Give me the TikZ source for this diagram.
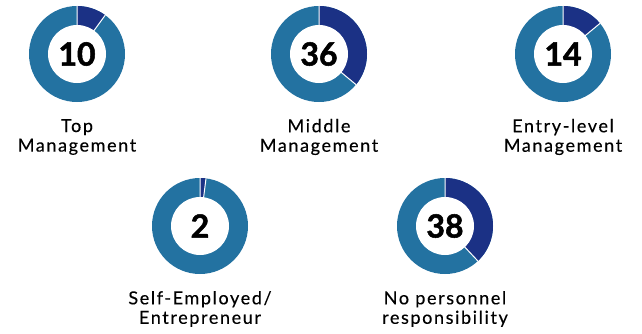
\documentclass[tikz,border=0pt]{standalone}
\usepackage{fontspec}
\setmainfont{Lato}
\newfontfamily\labelfont{Lato}[LetterSpace=9, FakeBold=0.3]
\newfontfamily\numfont{Lato}[BoldFeatures={FakeBold=1.6}]
\usepackage{xcolor}
\usepackage{tikz}

\definecolor{ringblue}{RGB}{35,114,161}
\definecolor{ringnavy}{RGB}{27,49,133}

\tikzset{
  numtext/.style={font=\numfont\fontsize{32}{32}\selectfont\bfseries, text=black},
  labeltext/.style={font=\labelfont\fontsize{18}{19.5}\selectfont, align=center, text=black},
  gap/.style={white, line width=1pt}
}

\begin{document}
\begin{tikzpicture}[x=1pt,y=1pt]
  	\useasboundingbox (0,0) rectangle (642,333);
  	% Top Management
  	\fill[ringblue] (77,279) circle (48pt);
  	\fill[ringnavy] (77,279) -- ++(90:48pt) arc[start angle=90, end angle=54, radius=48pt] -- cycle;
  	\draw[gap] (77,279) -- ++(90:48pt) (77,279) -- ++(54:48pt);
  	\fill[white] (77,279) circle (29pt);
  	\node[numtext] (topnum) at (77,279) {10};
  	\node[labeltext] (toplabel) at (77,196) {Top\\Management};
  	% Middle Management
  	\fill[ringblue] (319,279) circle (48pt);
  	\fill[ringnavy] (319,279) -- ++(90:48pt) arc[start angle=90, end angle=-39.6, radius=48pt] -- cycle;
  	\draw[gap] (319,279) -- ++(90:48pt) (319,279) -- ++(-39.6:48pt);
  	\fill[white] (319,279) circle (29pt);
  	\node[numtext] (midnum) at (319,279) {36};
  	\node[labeltext] (midlabel) at (319,196) {Middle\\Management};
  	% Entry-level Management
  	\fill[ringblue] (563,279) circle (48pt);
  	\fill[ringnavy] (563,279) -- ++(90:48pt) arc[start angle=90, end angle=39.6, radius=48pt] -- cycle;
  	\draw[gap] (563,279) -- ++(90:48pt) (563,279) -- ++(39.6:48pt);
  	\fill[white] (563,279) circle (29pt);
  	\node[numtext] (entrynum) at (563,279) {14};
  	\node[labeltext] (entrylabel) at (563,196) {Entry-level\\Management};
  	% Self-Employed
  	\fill[ringblue] (200,107) circle (48pt);
  	\fill[ringnavy] (200,107) -- ++(90:48pt) arc[start angle=90, end angle=82.8, radius=48pt] -- cycle;
  	\draw[gap] (200,107) -- ++(90:48pt) (200,107) -- ++(82.8:48pt);
  	\fill[white] (200,107) circle (29pt);
  	\node[numtext] (selfnum) at (200,107) {2};
  	\node[labeltext] (selflabel) at (200,24) {Self-Employed/\\Entrepreneur};
  	% No personnel responsibility
  	\fill[ringblue] (445,107) circle (48pt);
  	\fill[ringnavy] (445,107) -- ++(90:48pt) arc[start angle=90, end angle=-46.8, radius=48pt] -- cycle;
  	\draw[gap] (445,107) -- ++(90:48pt) (445,107) -- ++(-46.8:48pt);
  	\fill[white] (445,107) circle (29pt);
  	\node[numtext] (nonum) at (445,107) {38};
  	\node[labeltext] (nolabel) at (445,24) {No personnel\\responsibility};
\end{tikzpicture}
\end{document}
